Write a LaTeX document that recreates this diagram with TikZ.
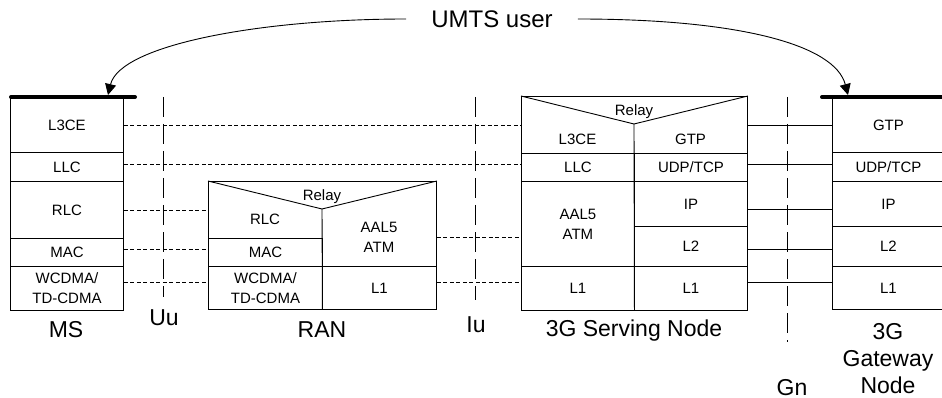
\documentclass[tikz,border=0pt]{standalone}
\usepackage{fontspec}
\setmainfont{Liberation Sans}
\usetikzlibrary{arrows.meta,calc}
\newcommand{\cellfont}{\fontsize{15}{20}\selectfont}
\newcommand{\labfont}{\fontsize{23}{27}\selectfont}
\begin{document}
\begin{tikzpicture}[x=1pt,y=-1pt,
  cell/.style={draw, line width=0.9pt, inner sep=0pt, anchor=north west, align=center, font=\cellfont},
  frame/.style={draw, line width=0.9pt, inner sep=0pt, anchor=north west},
  ctext/.style={inner sep=0pt, align=center, font=\cellfont},
  lab/.style={inner sep=0pt, align=center, font=\labfont, anchor=base},
  edge/.style={line width=0.9pt},
  peer/.style={line width=0.8pt, dash pattern=on 4pt off 2.5pt},
  link/.style={line width=0.8pt},
  iface/.style={line width=0.9pt, dash pattern=on 20pt off 7pt},
  bar/.style={line width=4pt, line cap=round},
  user/.style={line width=0.9pt, -{Triangle[length=11pt,width=11pt]}}
]
\useasboundingbox (0,0) rectangle (942,398);

% MS
\node[cell, minimum width=113pt, minimum height=55pt] (msl3) at (10,97) {L3CE};
\node[cell, minimum width=113pt, minimum height=29pt] (msllc) at (10,152) {LLC};
\node[cell, minimum width=113pt, minimum height=57pt] (msrlc) at (10,181) {RLC};
\node[cell, minimum width=113pt, minimum height=28pt] (msmac) at (10,238) {MAC};
\node[cell, minimum width=113pt, minimum height=44pt] (msphy) at (10,266) {WCDMA/\\TD-CDMA};
\draw[bar] (11,97) -- (135,97);

% RAN
\node[frame, minimum width=228pt, minimum height=128pt] (ran) at (208,181) {};
\coordinate (ranapex) at (322,209);
\draw[edge] (ran.north west) -- (ranapex) -- (ran.north east);
\draw[edge] (ranapex) -- (ran.south);
\node[cell, minimum width=114pt, minimum height=28pt] (ranmac) at (208,238) {MAC};
\node[cell, minimum width=114pt, minimum height=43pt] (ranphy) at (208,266) {WCDMA/\\TD-CDMA};
\node[cell, minimum width=114pt, minimum height=43pt] (ranl1) at (322,266) {L1};
\node[ctext] (ranrlc) at (265,219) {RLC};
\node[ctext] (ranatm) at (379,237.5) {AAL5\\ATM};
\node[ctext, anchor=base] (ranrelay) at (322,200.5) {Relay};

% 3G Serving Node
\node[frame, minimum width=226pt, minimum height=214pt] (sn) at (521,96) {};
\coordinate (snapex) at (634,124);
\draw[edge] (sn.north west) -- (snapex) -- (sn.north east);
\draw[edge] (snapex) -- (sn.south);
\node[cell, minimum width=113pt, minimum height=28pt] (snllc) at (521,153) {LLC};
\node[cell, minimum width=113pt, minimum height=28pt] (snudp) at (634,153) {UDP/TCP};
\node[cell, minimum width=113pt, minimum height=85pt] (snatm) at (521,181) {AAL5\\ATM};
\node[cell, minimum width=113pt, minimum height=45pt] (snip) at (634,181) {IP};
\node[cell, minimum width=113pt, minimum height=40pt] (snl2) at (634,226) {L2};
\node[cell, minimum width=113pt, minimum height=44pt] (snl1a) at (521,266) {L1};
\node[cell, minimum width=113pt, minimum height=44pt] (snl1b) at (634,266) {L1};
\node[ctext] (snl3) at (577.5,139) {L3CE};
\node[ctext] (sngtp) at (690.5,139) {GTP};
\node[ctext, anchor=base] (snrelay) at (634,115.5) {Relay};

% 3G Gateway Node
\node[cell, minimum width=112pt, minimum height=55pt] (gwgtp) at (832,97) {GTP};
\node[cell, minimum width=112pt, minimum height=29pt] (gwudp) at (832,152) {UDP/TCP};
\node[cell, minimum width=112pt, minimum height=45pt] (gwip) at (832,181) {IP};
\node[cell, minimum width=112pt, minimum height=40pt] (gwl2) at (832,226) {L2};
\node[cell, minimum width=112pt, minimum height=43pt] (gwl1) at (832,266) {L1};
\draw[bar] (822,97) -- (950,97);

% peer connections (dashed)
\draw[peer] (msl3.east) -- (msl3.east -| sn.west);
\draw[peer] ($(msllc.east)+(0,-2.5)$) -- ($(msllc.east -| snllc.west)+(0,-2.5)$);
\draw[peer] (msrlc.east) -- (msrlc.east -| ran.west);
\draw[peer] ($(msmac.east)+(0,-3)$) -- ($(ranmac.west)+(0,-3)$);
\draw[peer] ($(msphy.east)+(0,-6)$) -- ($(msphy.east -| ranphy.west)+(0,-6)$);
\draw[peer] (ranatm.east -| ran.east) -- (ranatm.east -| sn.west);
\draw[peer] ($(ranl1.east)+(0,-5.5)$) -- ($(ranl1.east -| sn.west)+(0,-5.5)$);

% solid connections
\draw[link] (gwgtp.west) -- (gwgtp.west -| sn.east);
\draw[link] ($(gwudp.west)+(0,-2.5)$) -- ($(gwudp.west -| sn.east)+(0,-2.5)$);
\draw[link] ($(gwip.west)+(0,5.5)$) -- ($(gwip.west -| sn.east)+(0,5.5)$);
\draw[link] ($(gwl2.west)+(0,3)$) -- ($(gwl2.west -| sn.east)+(0,3)$);
\draw[link] ($(gwl1.west)+(0,-5.5)$) -- ($(gwl1.west -| sn.east)+(0,-5.5)$);

% interfaces
\coordinate (uutop) at (163,97);
\coordinate (uubot) at (163,297);
\coordinate (iutop) at (475,97);
\coordinate (iubot) at (475,300);
\coordinate (gntop) at (787,97);
\coordinate (gnbot) at (787,342);
\draw[iface] (uutop) -- (uubot);
\draw[iface] (iutop) -- (iubot);
\draw[iface] (gntop) -- (gnbot);

% labels
\node[lab] (uu) at (164,325) {Uu};
\node[lab] (iu) at (476,332) {Iu};
\node[lab] (gn) at (792,395) {Gn};
\node[lab] (mslab) at (66,337) {MS};
\node[lab] (ranlab) at (322,337) {RAN};
\node[lab] (snlab) at (634,336) {3G Serving Node};
\node[inner sep=0pt, align=center, font=\labfont] (gwlab) at (888,359) {3G\\Gateway\\Node};

% UMTS user
\node[inner sep=0pt, inner xsep=25pt, font=\fontsize{24}{28}\selectfont] (umts) at (492,19) {UMTS user};
\coordinate (mstip) at (108,95);
\coordinate (gwtip) at (848,95);
\draw[user] (umts.west) .. controls (260,19) and (120,45) .. (mstip);
\draw[user] (umts.east) .. controls (740,19) and (835,45) .. (gwtip);
\end{tikzpicture}
\end{document}
